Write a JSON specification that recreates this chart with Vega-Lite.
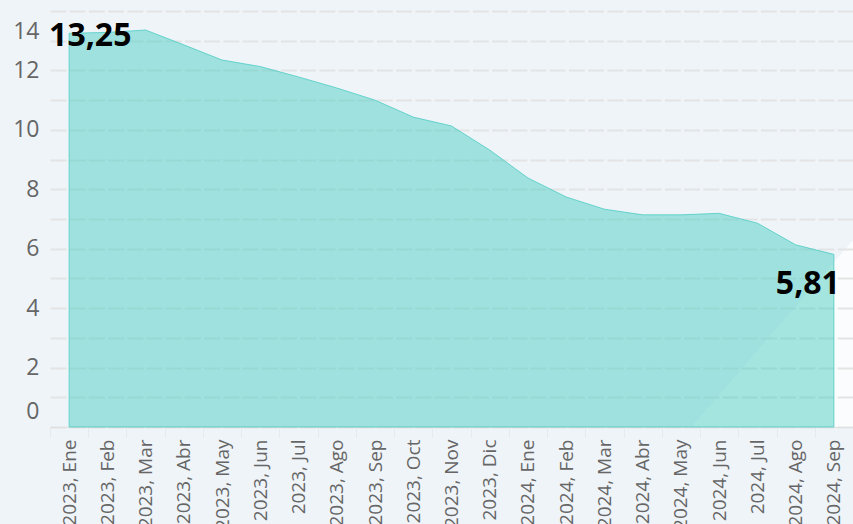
{
  "$schema": "https://vega.github.io/schema/vega-lite/v6.json",
  "width": 803,
  "height": 416,
  "autosize": {"type": "none"},
  "padding": {"left": 50, "top": 11, "right": 0, "bottom": 97},
  "background": "#eff4f9",
  "config": {
    "font": "Open Sans",
    "locale": {"number": {"decimal": ",", "thousands": ".", "grouping": [3], "currency": ["", " €"]}},
    "view": {
      "stroke": null,
      "fill": {
        "gradient": "linear",
        "x1": 0, "y1": 0, "x2": 1.206, "y2": 0.5406,
        "stops": [
          {"offset": 0, "color": "#eff4f9"},
          {"offset": 0.861, "color": "#eff4f9"},
          {"offset": 0.861, "color": "#fafcfd"},
          {"offset": 1, "color": "#fafcfd"}
        ]
      }
    }
  },
  "data": {
    "values": [
      {"mes": "2023, Ene", "valor": 13.25},
      {"mes": "2023, Feb", "valor": 13.28},
      {"mes": "2023, Mar", "valor": 13.36},
      {"mes": "2023, Abr", "valor": 12.86},
      {"mes": "2023, May", "valor": 12.35},
      {"mes": "2023, Jun", "valor": 12.13},
      {"mes": "2023, Jul", "valor": 11.78},
      {"mes": "2023, Ago", "valor": 11.41},
      {"mes": "2023, Sep", "valor": 11.0},
      {"mes": "2023, Oct", "valor": 10.43},
      {"mes": "2023, Nov", "valor": 10.13},
      {"mes": "2023, Dic", "valor": 9.32},
      {"mes": "2024, Ene", "valor": 8.38},
      {"mes": "2024, Feb", "valor": 7.74},
      {"mes": "2024, Mar", "valor": 7.33},
      {"mes": "2024, Abr", "valor": 7.14},
      {"mes": "2024, May", "valor": 7.14},
      {"mes": "2024, Jun", "valor": 7.19},
      {"mes": "2024, Jul", "valor": 6.86},
      {"mes": "2024, Ago", "valor": 6.13},
      {"mes": "2024, Sep", "valor": 5.81}
    ]
  },
  "encoding": {
    "x": {
      "field": "mes",
      "type": "ordinal",
      "sort": null,
      "bandPosition": 0.5,
      "scale": {"type": "band", "paddingInner": 0, "paddingOuter": 0},
      "axis": {
        "title": null,
        "labelAngle": 270,
        "labelFontSize": 19,
        "labelColor": "#666666",
        "labelPadding": 2,
        "tickSize": 10,
        "tickColor": "#e6e9ed",
        "tickBand": "extent",
        "domainColor": "#e0e0e0",
        "grid": false
      }
    },
    "y": {
      "field": "valor",
      "type": "quantitative",
      "scale": {"domain": [0, 14], "nice": false, "zero": true},
      "axis": {
        "title": null,
        "values": [0, 1, 2, 3, 4, 5, 6, 7, 8, 9, 10, 11, 12, 13, 14],
        "labelExpr": "datum.value % 2 === 0 ? datum.label : ''",
        "labelFontSize": 23,
        "labelColor": "#666666",
        "labelPadding": 11,
        "ticks": false,
        "domain": false,
        "grid": true,
        "gridColor": "#e4e4e4",
        "gridWidth": 2,
        "gridDash": [16, 3.2],
        "labelOffset": {"condition": [{"test": "datum.value === 14", "value": 20}, {"test": "datum.value === 0", "value": -16}], "value": 0}
      }
    }
  },
  "layer": [
    {
      "mark": {"type": "area", "fill": "#4ecdc4", "fillOpacity": 0.5, "stroke": "#4ecdc4", "strokeWidth": 1, "strokeOpacity": 0.8}
    },
    {
      "transform": [{"filter": "datum.mes === '2023, Ene'"}],
      "mark": {"type": "text", "align": "left", "baseline": "middle", "dx": -20, "dy": 3, "fontSize": 32, "fontWeight": "bold", "color": "#000000"},
      "encoding": {"text": {"field": "valor", "type": "quantitative", "format": ".2f"}}
    },
    {
      "transform": [{"filter": "datum.mes === '2024, Sep'"}],
      "mark": {"type": "text", "align": "right", "baseline": "middle", "dx": 6, "dy": 30, "fontSize": 32, "fontWeight": "bold", "color": "#000000"},
      "encoding": {"text": {"field": "valor", "type": "quantitative", "format": ".2f"}}
    }
  ]
}
